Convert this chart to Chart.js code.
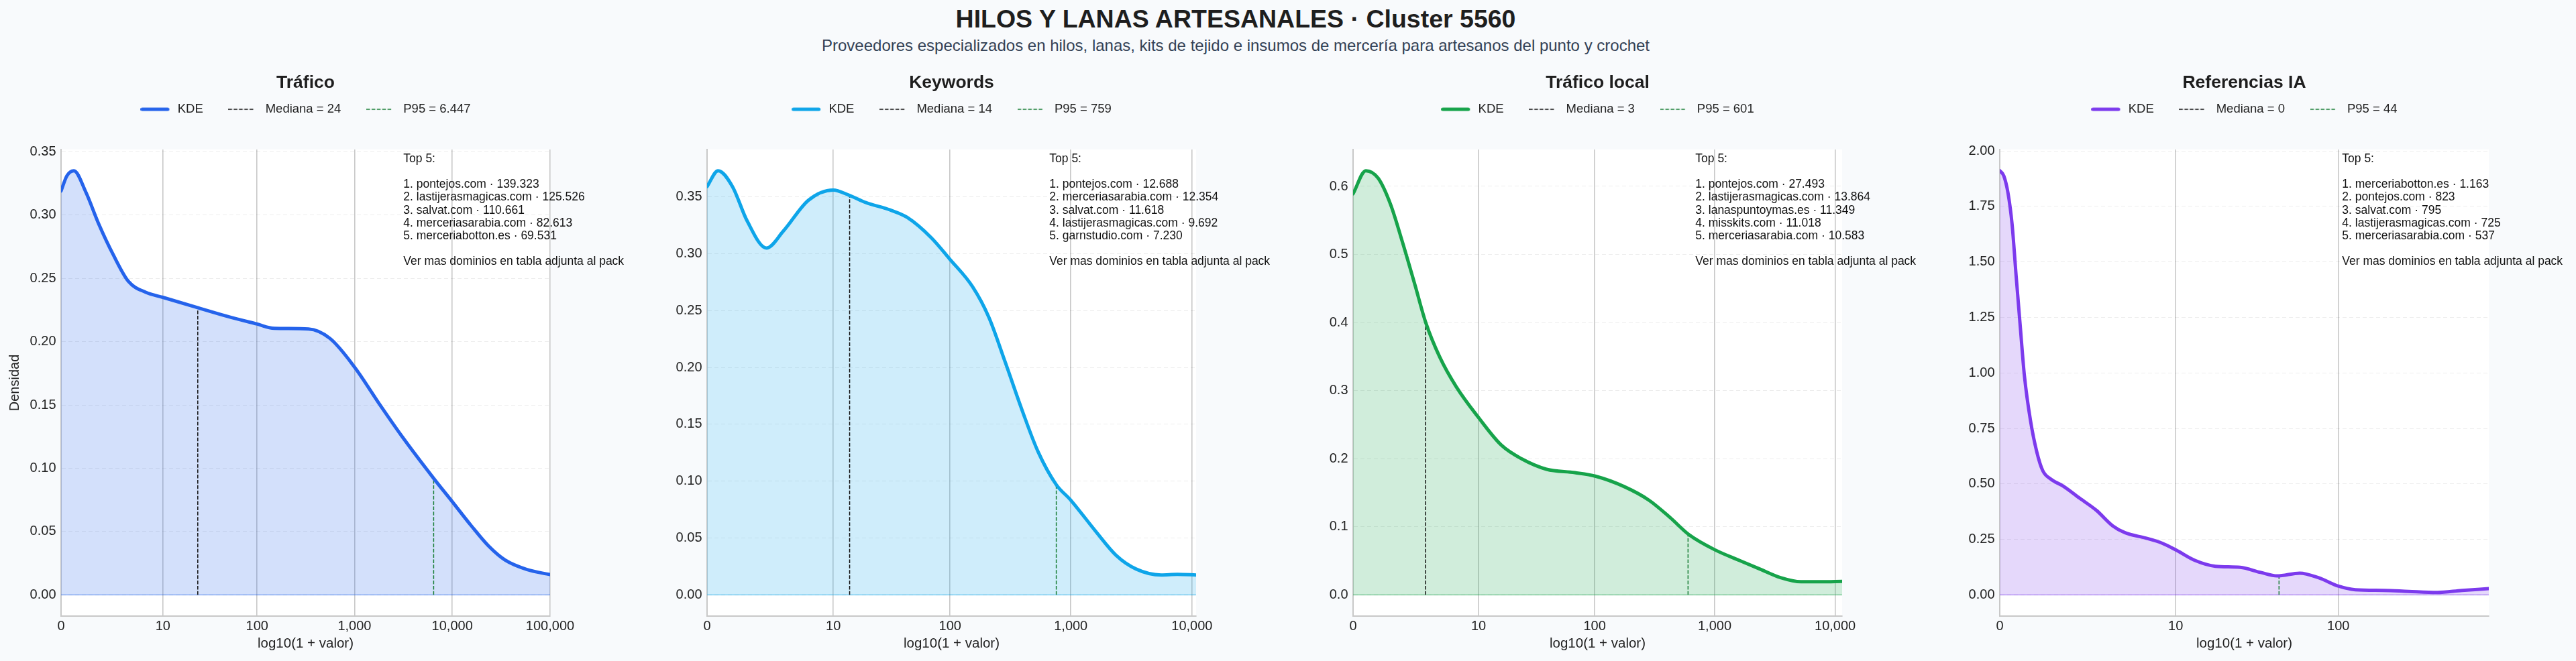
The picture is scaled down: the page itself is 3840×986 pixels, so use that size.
<!DOCTYPE html>
<html>
<head>
<meta charset="utf-8">
<script src="https://cdn.jsdelivr.net/npm/chart.js@4.4.1/dist/chart.umd.min.js"></script>
<style>
  html, body { margin:0; padding:0; width:3840px; height:986px; overflow:hidden; background:#f8fafc;
    font-family:'Liberation Sans', Arial, sans-serif; }
  #ttl { position:absolute; left:0; width:3684px; top:10px; text-align:center; font-size:37.5px; line-height:1;
    font-weight:bold; color:#1e1e1e; white-space:nowrap; }
  #sub { position:absolute; left:0; width:3684px; top:55.5px; text-align:center; font-size:24px; line-height:1;
    color:#334155; white-space:nowrap; }
  canvas { position:absolute; top:0; }
</style>
</head>
<body>
<div id="ttl">HILOS Y LANAS ARTESANALES · Cluster 5560</div>
<div id="sub">Proveedores especializados en hilos, lanas, kits de tejido e insumos de mercería para artesanos del punto y crochet</div>
<script>
// ---------------- DATA ----------------
const panelTitles = ['Tráfico', 'Keywords', 'Tráfico local', 'Referencias IA'];

// KDE curves: x in log10(1 + valor), y density
const traficoX = [0, 0.06, 0.131, 0.254, 0.385, 0.538, 0.69, 0.866, 1.04, 1.39, 1.70, 2.0, 2.18, 2.53, 2.75, 3.0, 3.27, 3.49, 3.81, 4.0, 4.19, 4.37, 4.54, 4.76, 5.0];
const traficoY = [0.319, 0.331, 0.335, 0.318, 0.293, 0.268, 0.2475, 0.239, 0.235, 0.227, 0.220, 0.214, 0.2105, 0.210, 0.2025, 0.180, 0.149, 0.1247, 0.092, 0.0736, 0.055, 0.0387, 0.0275, 0.0201, 0.016];

const keywordsX = [0, 0.091, 0.21, 0.33, 0.49, 0.63, 0.836, 1.04, 1.17, 1.31, 1.51, 1.65, 1.85, 2.0, 2.19, 2.325, 2.46, 2.60, 2.73, 2.88, 3.0, 3.205, 3.374, 3.54, 3.746, 3.88, 4.034];
const keywordsY = [0.359, 0.373, 0.359, 0.329, 0.305, 0.320, 0.347, 0.356, 0.3515, 0.345, 0.3385, 0.332, 0.314, 0.2955, 0.271, 0.244, 0.2045, 0.162, 0.126, 0.097, 0.0833, 0.056, 0.0348, 0.0227, 0.0175, 0.018, 0.0175];

const localX = [0, 0.106, 0.208, 0.31, 0.41, 0.514, 0.603, 0.72, 0.855, 1.043, 1.23, 1.40, 1.605, 1.84, 2.01, 2.25, 2.456, 2.63, 2.787, 3.008, 3.206, 3.376, 3.547, 3.717, 3.888, 4.058];
const localY = [0.589, 0.623, 0.612, 0.574, 0.518, 0.455, 0.400, 0.349, 0.306, 0.260, 0.220, 0.1997, 0.1845, 0.1795, 0.1744, 0.159, 0.139, 0.1137, 0.0885, 0.0657, 0.0506, 0.0379, 0.0253, 0.0192, 0.0192, 0.0197];

const iaX = [0, 0.024, 0.049, 0.073, 0.097, 0.122, 0.146, 0.182, 0.219, 0.255, 0.304, 0.377, 0.474, 0.572, 0.669, 0.742, 0.864, 0.961, 1.044, 1.156, 1.277, 1.423, 1.545, 1.642, 1.776, 1.886, 2.007, 2.105, 2.275, 2.42, 2.59, 2.737, 2.895];
const iaY = [1.911, 1.888, 1.81, 1.67, 1.437, 1.204, 0.987, 0.785, 0.645, 0.559, 0.5206, 0.4895, 0.435, 0.381, 0.311, 0.28, 0.256, 0.233, 0.202, 0.155, 0.129, 0.124, 0.101, 0.0855, 0.098, 0.0777, 0.0389, 0.0233, 0.0202, 0.0155, 0.011, 0.0202, 0.028];

const medians = [24, 14, 3, 0];
const medianLabels = ['24', '14', '3', '0'];
const medianTops = [0.2275, 0.3515, 0.399, 1.911];
const p95s = [6447, 759, 601, 44];
const p95Labels = ['6.447', '759', '601', '44'];
const p95Tops = [0.092, 0.097, 0.0885, 0.0855];

const xTickValues = [0, 10, 100, 1000, 10000, 100000];
const xTickLabels = ['0', '10', '100', '1,000', '10,000', '100,000'];
const yTicksTrafico = [0, 0.05, 0.10, 0.15, 0.20, 0.25, 0.30, 0.35];
const yTicksKeywords = [0, 0.05, 0.10, 0.15, 0.20, 0.25, 0.30, 0.35];
const yTicksLocal = [0, 0.1, 0.2, 0.3, 0.4, 0.5, 0.6];
const yTicksIA = [0, 0.25, 0.50, 0.75, 1.00, 1.25, 1.50, 1.75, 2.00];
const yDecimals = [2, 2, 1, 2];

const top5Trafico = ['pontejos.com · 139.323', 'lastijerasmagicas.com · 125.526', 'salvat.com · 110.661', 'merceriasarabia.com · 82.613', 'merceriabotton.es · 69.531'];
const top5Keywords = ['pontejos.com · 12.688', 'merceriasarabia.com · 12.354', 'salvat.com · 11.618', 'lastijerasmagicas.com · 9.692', 'garnstudio.com · 7.230'];
const top5Local = ['pontejos.com · 27.493', 'lastijerasmagicas.com · 13.864', 'lanaspuntoymas.es · 11.349', 'misskits.com · 11.018', 'merceriasarabia.com · 10.583'];
const top5IA = ['merceriabotton.es · 1.163', 'pontejos.com · 823', 'salvat.com · 795', 'lastijerasmagicas.com · 725', 'merceriasarabia.com · 537'];

// ---------------- STYLE ----------------
const lineColors = ['#2563eb', '#0ea5e9', '#16a34a', '#7c3aed'];
const fillColors = ['rgba(37,99,235,0.2)', 'rgba(14,165,233,0.2)', 'rgba(22,163,74,0.2)', 'rgba(124,58,237,0.2)'];
const baseColors = ['rgba(37,99,235,0.35)', 'rgba(14,165,233,0.35)', 'rgba(22,163,74,0.35)', 'rgba(124,58,237,0.35)'];
const MEDIAN_COLOR = '#111111';
const P95_COLOR = '#1a7f37';
const FONT = "'Liberation Sans', Arial, sans-serif";
const canvasLefts = [1, 964, 1927, 2891];

const panels = [
  {xs: traficoX, ys: traficoY, yt: yTicksTrafico, top5: top5Trafico},
  {xs: keywordsX, ys: keywordsY, yt: yTicksKeywords, top5: top5Keywords},
  {xs: localX, ys: localY, yt: yTicksLocal, top5: top5Local},
  {xs: iaX, ys: iaY, yt: yTicksIA, top5: top5IA}
];

Chart.defaults.font.family = FONT;
Chart.defaults.color = '#222222';

function swatch(color, lw, dash, cap) {
  const c = document.createElement('canvas');
  c.width = 46; c.height = 12;
  const g = c.getContext('2d');
  g.strokeStyle = color; g.lineWidth = lw; g.lineCap = cap; g.setLineDash(dash);
  const x0 = cap === 'round' ? lw / 2 : 0;
  g.beginPath(); g.moveTo(x0, 6); g.lineTo(x0 + 38, 6); g.stroke();
  return c;
}

const plotBg = {
  id: 'plotBg',
  beforeDraw(chart) {
    const {ctx, chartArea: a} = chart;
    ctx.save(); ctx.fillStyle = '#ffffff'; ctx.fillRect(a.left, a.top, a.width, a.height); ctx.restore();
  }
};
const top5Box = {
  id: 'top5Box',
  afterDraw(chart, args, opts) {
    const {ctx, chartArea: a} = chart;
    ctx.save();
    ctx.font = '17.5px ' + FONT;
    ctx.fillStyle = '#111111';
    ctx.textAlign = 'left';
    ctx.textBaseline = 'middle';
    const x = a.left + 0.70 * a.width;
    opts.lines.forEach((t, k) => ctx.fillText(t, x, a.top + 14 + k * 19.2));
    ctx.restore();
  }
};

const NB = '\u00a0\u00a0\u00a0\u00a0\u00a0';
const LEG_PAD = 12, TOP_PAD = 100, TITLE_PT = 10, TITLE_PB = 0, TITLE_SIZE = 26.5, LEG_SIZE = 18.5;
const legendH = (TITLE_SIZE * 1.2 + TITLE_PT + TITLE_PB) + (LEG_SIZE + LEG_PAD) + 10;
const topAxisH = 223 - TOP_PAD - legendH;

panels.forEach((p, i) => {
  const cv = document.createElement('canvas');
  cv.width = 964; cv.height = 986;
  cv.style.left = canvasLefts[i] + 'px';
  cv.style.width = '964px'; cv.style.height = '986px';
  document.body.appendChild(cv);

  const xmin = p.xs[0], xmax = p.xs[p.xs.length - 1];
  const peak = Math.max(...p.ys);
  const yMin = -0.05 * peak, yMax = 1.05 * peak;
  const tickPos = xTickValues.map(v => Math.log10(1 + v)).filter(v => v <= xmax + 1e-3);
  const tickLab = xTickLabels.slice(0, tickPos.length);
  const mx = Math.log10(1 + medians[i]);
  const px = Math.log10(1 + p95s[i]);
  const lines = ['Top 5:', ''].concat(p.top5.map((d, k) => (k + 1) + '. ' + d), ['', 'Ver mas dominios en tabla adjunta al pack']);

  const kdeImg = swatch(lineColors[i], 5, [], 'round');
  const medImg = swatch(MEDIAN_COLOR, 1.5, [5.5, 2.4], 'butt');
  const p95Img = swatch(P95_COLOR, 1.5, [5.5, 2.4], 'butt');
  const legTexts = ['KDE' + NB, 'Mediana = ' + medianLabels[i] + NB, 'P95 = ' + p95Labels[i]];
  const legImgs = [kdeImg, medImg, p95Img];

  new Chart(cv, {
    type: 'line',
    data: {
      datasets: [
        {label: 'KDE', data: p.xs.map((x, k) => ({x, y: p.ys[k]})), borderColor: lineColors[i],
         backgroundColor: fillColors[i], fill: 'origin', borderWidth: 5, pointRadius: 0,
         cubicInterpolationMode: 'monotone', borderCapStyle: 'round', borderJoinStyle: 'round',
         xAxisID: 'x', yAxisID: 'y'},
        {label: 'Mediana', data: [{x: mx, y: 0}, {x: mx, y: medianTops[i]}], borderColor: MEDIAN_COLOR,
         borderWidth: 1.5, borderDash: [5.5, 2.4], pointRadius: 0, fill: false,
         clip: {left: -2, top: 0, right: 0, bottom: 0}, xAxisID: 'x', yAxisID: 'y'},
        {label: 'P95', data: [{x: px, y: 0}, {x: px, y: p95Tops[i]}], borderColor: P95_COLOR,
         borderWidth: 1.5, borderDash: [5.5, 2.4], pointRadius: 0, fill: false,
         clip: {left: -2, top: 0, right: 0, bottom: 0}, xAxisID: 'x', yAxisID: 'y'},
        {label: 'base', data: [{x: xmin, y: 0}, {x: xmax, y: 0}], borderColor: baseColors[i],
         borderWidth: 2, pointRadius: 0, fill: false, xAxisID: 'x', yAxisID: 'y'}
      ]
    },
    options: {
      responsive: false, animation: false, events: [], devicePixelRatio: 1,
      layout: {padding: {left: 0, right: 55, top: TOP_PAD, bottom: 0}},
      plugins: {
        filler: {drawTime: 'beforeDatasetsDraw'},
        tooltip: {enabled: false},
        title: {display: false},
        legend: {
          display: true, position: 'top', align: 'center',
          title: {display: true, text: panelTitles[i], color: '#1e1e1e',
                  font: {size: TITLE_SIZE, weight: 'bold', family: FONT},
                  padding: {top: TITLE_PT, bottom: TITLE_PB}},
          labels: {
            usePointStyle: true, pointStyleWidth: 46, padding: LEG_PAD, color: '#222222',
            font: {size: LEG_SIZE, family: FONT},
            generateLabels: () => legTexts.map((t, k) => ({
              text: t, pointStyle: legImgs[k], fillStyle: 'rgba(0,0,0,0)', strokeStyle: 'rgba(0,0,0,0)',
              lineWidth: 0, hidden: false, datasetIndex: k, fontColor: '#222222'
            }))
          }
        },
        top5Box: {lines}
      },
      scales: {
        x: {
          type: 'linear', position: 'bottom', min: xmin, max: xmax,
          grid: {color: '#c8c8c8', lineWidth: 1.6, drawTicks: false},
          border: {display: true, color: '#c8c8c8', width: 2},
          ticks: {font: {size: 20}, color: '#222222', padding: 3, maxRotation: 0, minRotation: 0, autoSkip: false,
                  callback: (v, k) => tickLab[k]},
          title: {display: true, text: 'log10(1 + valor)', color: '#222222', font: {size: 20.5},
                  padding: {top: 0, bottom: 13.7}},
          afterBuildTicks: s => { s.ticks = tickPos.map(v => ({value: Math.min(v, xmax)})); },
          afterFit: s => { s.height = 67; }
        },
        xT: {
          type: 'linear', position: 'top', display: true, min: 0, max: 1,
          grid: {display: false}, border: {display: false}, ticks: {display: false},
          afterFit: s => { s.height = topAxisH; }
        },
        y: {
          type: 'linear', position: 'left', min: yMin, max: yMax,
          grid: {color: 'rgba(0,0,0,0.07)', lineWidth: 1, drawTicks: false},
          border: {display: true, color: '#c8c8c8', width: 2, dash: [6, 4]},
          ticks: {font: {size: 20}, color: '#222222', padding: 7.5,
                  callback: v => Number(v).toFixed(yDecimals[i])},
          title: {display: i === 0, text: 'Densidad', color: '#222222', font: {size: 20},
                  padding: {top: 9, bottom: 0}},
          afterBuildTicks: s => { s.ticks = p.yt.map(v => ({value: v})); },
          afterFit: s => { s.width = 90; }
        },
        yR: {
          type: 'linear', position: 'right', display: true, min: 0, max: 1,
          grid: {display: false}, border: {display: false}, ticks: {display: false},
          afterFit: s => { s.width = 90; }
        }
      }
    },
    plugins: [plotBg, top5Box]
  });
});
</script>
</body>
</html>
